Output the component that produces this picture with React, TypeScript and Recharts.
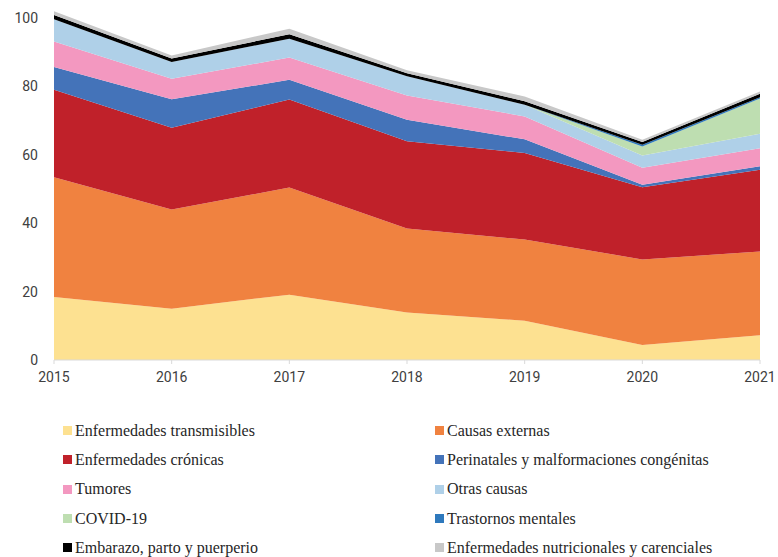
import { AreaChart, Area, XAxis, YAxis, Legend } from "recharts";

const years = ["2015", "2016", "2017", "2018", "2019", "2020", "2021"];

const transmisibles = [18.4, 15.0, 19.1, 13.9, 11.5, 4.4, 7.2];
const externas = [35.0, 29.0, 31.3, 24.5, 23.7, 25.0, 24.5];
const cronicas = [25.6, 23.9, 25.7, 25.5, 25.3, 21.1, 23.9];
const perinatales = [6.6, 8.3, 5.8, 6.3, 4.0, 0.7, 1.0];
const tumores = [7.5, 6.0, 6.5, 7.1, 6.7, 5.0, 5.3];
const otras = [6.5, 4.9, 5.5, 5.6, 3.4, 3.6, 4.2];
const covid = [0, 0, 0, 0, 0, 2.6, 10.3];
const mentales = [0, 0, 0, 0, 0, 0.5, 0.4];
const embarazo = [1.2, 1.0, 1.3, 0.9, 1.0, 0.8, 1.0];
const nutricionales = [1.1, 0.9, 1.6, 0.9, 1.4, 0.7, 0.7];

const yTicks = [0, 20, 40, 60, 80, 100];

const series = [
  { key: "transmisibles", name: "Enfermedades transmisibles", color: "#FDE191", values: transmisibles },
  { key: "externas", name: "Causas externas", color: "#F08240", values: externas },
  { key: "cronicas", name: "Enfermedades crónicas", color: "#C0212A", values: cronicas },
  { key: "perinatales", name: "Perinatales y malformaciones congénitas", color: "#4473B9", values: perinatales },
  { key: "tumores", name: "Tumores", color: "#F398C0", values: tumores },
  { key: "otras", name: "Otras causas", color: "#AFD0E8", values: otras },
  { key: "covid", name: "COVID-19", color: "#BEDEB1", values: covid },
  { key: "mentales", name: "Trastornos mentales", color: "#2E79BD", values: mentales },
  { key: "embarazo", name: "Embarazo, parto y puerperio", color: "#000000", values: embarazo },
  { key: "nutricionales", name: "Enfermedades nutricionales y carenciales", color: "#C8C8C8", values: nutricionales },
];

const data = years.map((year, i) => {
  const row: Record<string, string | number> = { year };
  series.forEach((s) => {
    row[s.key] = s.values[i];
  });
  return row;
});

const axisTick = { fill: "#404040", fontSize: 14, fontFamily: "Roboto, sans-serif" };

function LegendGrid() {
  return (
    <div
      style={{
        display: "grid",
        gridTemplateColumns: "372px 340px",
        fontFamily: "'Liberation Serif', serif",
        fontSize: 16,
        color: "#262626",
      }}
    >
      {series.map((s) => (
        <div key={s.key} style={{ display: "flex", alignItems: "center", height: 29.3 }}>
          <span
            style={{ width: 9, height: 9, background: s.color, marginRight: 3, display: "inline-block" }}
          />
          <span>{s.name}</span>
        </div>
      ))}
    </div>
  );
}

export default function App() {
  return (
    <div style={{ position: "absolute", left: 0, top: 0, background: "#fff" }}>
      <AreaChart
        width={778}
        height={557}
        data={data}
        margin={{ top: 11, right: 18, left: 0, bottom: 167 }}
      >
        <XAxis
          dataKey="year"
          tick={axisTick}
          tickSize={4}
          tickMargin={8}
          axisLine={{ stroke: "#D9D9D9" }}
          tickLine={{ stroke: "#D9D9D9" }}
          interval={0}
        />
        <YAxis
          width={54}
          domain={[0, 102]}
          ticks={yTicks}
          tick={axisTick}
          tickSize={0}
          tickMargin={16}
          axisLine={false}
          tickLine={false}
        />
        {series.map((s) => (
          <Area
            key={s.key}
            type="linear"
            dataKey={s.key}
            name={s.name}
            stackId="1"
            stroke="none"
            fill={s.color}
            fillOpacity={1}
            isAnimationActive={false}
          />
        ))}
        <Legend
          layout="vertical"
          align="center"
          verticalAlign="middle"
          wrapperStyle={{ top: 416, left: 63, width: 712 }}
          content={() => <LegendGrid />}
        />
      </AreaChart>
    </div>
  );
}
